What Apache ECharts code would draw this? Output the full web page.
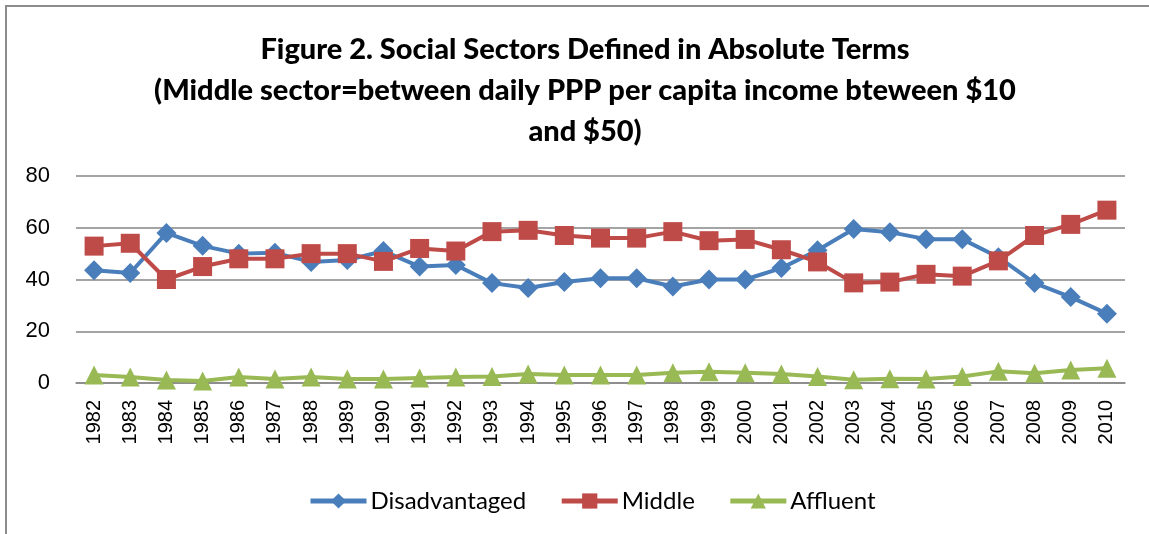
<!DOCTYPE html>
<html lang="en">

<head>
  <meta charset="UTF-8" />
  <title>Figure 2. Social Sectors Defined in Absolute Terms</title>
  <script src="https://cdn.jsdelivr.net/npm/echarts@6.0.0/dist/echarts.min.js"></script>
  <style>
    body {
      margin: 0;
      background: #fff;
    }

    #frame {
      position: absolute;
      left: 5px;
      top: 5px;
      width: 1149px;
      height: 534px;
      border-left: 2px solid #8c8c8c;
      border-top: 2px solid #8c8c8c;
    }

    #chart {
      position: absolute;
      left: 0;
      top: 0;
      width: 1149px;
      height: 534px;
    }
  </style>
</head>

<body>
  <div id="frame"></div>
  <div id="chart"></div>

  <script>
    const years = [
      "1982", "1983", "1984", "1985", "1986", "1987", "1988", "1989", "1990", "1991",
      "1992", "1993", "1994", "1995", "1996", "1997", "1998", "1999", "2000", "2001",
      "2002", "2003", "2004", "2005", "2006", "2007", "2008", "2009", "2010"
    ];
    const disadvantaged = [
      43.6, 42.5, 58, 53, 50, 50.3, 46.8, 47.5, 51, 45,
      45.6, 38.6, 36.7, 39, 40.5, 40.5, 37.3, 40, 40, 44.4,
      51.3, 59.5, 58.3, 55.6, 55.6, 48.6, 38.6, 33.2, 26.8
    ];
    const middle = [
      52.9, 54, 40, 45, 48, 48, 50, 50, 47, 52,
      51, 58.5, 59, 57, 56, 56, 58.5, 55, 55.5, 51.5,
      46.8, 38.7, 39, 42, 41.3, 47.2, 57, 61.3, 66.8
    ];
    const affluent = [
      3.1, 2.3, 1.2, 0.8, 2.3, 1.5, 2.3, 1.5, 1.5, 1.9,
      2.3, 2.5, 3.5, 3.1, 3.1, 3.1, 4, 4.3, 4, 3.5,
      2.5, 1.3, 1.6, 1.5, 2.5, 4.5, 3.8, 5, 5.7
    ];

    const chart = echarts.init(document.getElementById("chart"), null, { renderer: "canvas" });

    const blue = "#4a7ebb";
    const red = "#be4b48";
    const green = "#98b954";

    function lineSeries(name, data, color, symbol, size) {
      return {
        name: name,
        type: "line",
        data: data,
        symbol: symbol,
        symbolSize: size,
        showAllSymbol: true,
        lineStyle: { color: color, width: 4 },
        itemStyle: { color: color, borderWidth: 0 },
        emphasis: { disabled: true },
        animation: false
      };
    }

    chart.setOption({
      animation: false,
      title: {
        text: "Figure 2. Social Sectors Defined in Absolute Terms\n(Middle sector=between daily PPP per capita income bteween $10\nand $50)",
        left: 580,
        textAlign: "center",
        top: 24,
        textStyle: {
          fontFamily: "Lato",
          fontWeight: 900,
          fontSize: 29,
          lineHeight: 41,
          color: "#000"
        }
      },
      legend: {
        top: 484,
        left: 303,
        itemWidth: 56,
        itemHeight: 19,
        itemGap: 33,
        lineStyle: { width: 5 },
        textStyle: { fontFamily: "Lato", fontSize: 24, color: "#000", padding: [0, 0, 0, -1] },
        data: ["Disadvantaged", "Middle", "Affluent"]
      },
      grid: {
        left: 76,
        right: 24,
        top: 176,
        bottom: 151
      },
      xAxis: {
        type: "category",
        data: years,
        boundaryGap: true,
        axisLine: { lineStyle: { color: "#868686", width: 1.5 } },
        axisTick: { show: false },
        axisLabel: {
          rotate: 90,
          margin: 17,
          fontFamily: "Liberation Sans",
          fontSize: 20,
          color: "#000",
          interval: 0
        }
      },
      yAxis: {
        type: "value",
        min: 0,
        max: 80,
        interval: 20,
        axisLine: { show: false },
        axisTick: { show: false },
        splitLine: { lineStyle: { color: "#868686", width: 1.5 } },
        axisLabel: {
          margin: 26,
          fontFamily: "Liberation Sans",
          fontSize: 22,
          color: "#000"
        }
      },
      series: [
        lineSeries("Disadvantaged", disadvantaged, blue, "diamond", 20),
        lineSeries("Middle", middle, red, "rect", 19),
        lineSeries("Affluent", affluent, green, "triangle", 19)
      ]
    });
  </script>
</body>

</html>
